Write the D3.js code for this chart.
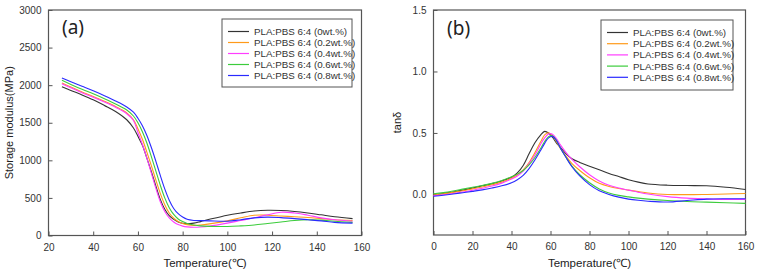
<!DOCTYPE html>
<html><head><meta charset="utf-8">
<script src="https://cdn.jsdelivr.net/npm/d3@7"></script>
<style>
body{margin:0;background:#fff;}
svg{display:block;font-family:"Liberation Sans",Arial,sans-serif;}
</style></head>
<body><svg id="c" width="760" height="280"></svg>
<script>
// ---------- data ----------
const seriesNames = ["PLA:PBS 6:4 (0wt.%)","PLA:PBS 6:4 (0.2wt.%)","PLA:PBS 6:4 (0.4wt.%)","PLA:PBS 6:4 (0.6wt.%)","PLA:PBS 6:4 (0.8wt.%)"];
const seriesColors = ["#333333","#ff9a1a","#ff3dff","#3ccc3c","#2a2aff"];

// (a) storage modulus
const tempA = [26,30,35,40,45,50,55,58,60,62,64,66,68,70,72,74,76,78,80,82,85,88,92,100,106,112,118,124,130,136,142,148,156];
const modulus0 = [1980,1930,1870,1805,1730,1650,1540,1430,1320,1200,1030,850,660,480,350,265,215,180,162,156,165,185,215,270,300,325,335,332,320,300,275,250,225];
const modulus02 = [2030,1975,1910,1850,1785,1715,1630,1540,1420,1280,1110,930,740,560,410,300,230,185,160,145,135,140,155,195,235,270,270,260,250,240,225,210,200];
const modulus04 = [2020,1965,1900,1840,1775,1705,1620,1530,1370,1210,1030,830,630,450,320,235,180,145,125,115,110,113,125,165,200,235,275,310,300,270,235,210,190];
const modulus06 = [2065,2010,1945,1885,1820,1750,1670,1590,1500,1380,1230,1050,860,670,500,370,280,220,185,160,140,128,122,120,128,140,160,180,200,210,205,190,175];
const modulus08 = [2095,2045,1985,1925,1860,1790,1710,1640,1560,1460,1330,1170,990,800,620,470,360,290,245,215,200,198,195,190,210,235,245,238,225,210,195,175,165];
const ticksAx = [20,40,60,80,100,120,140,160];
const ticksAy = [0,500,1000,1500,2000,2500,3000];

// (b) tan delta
const tempB = [0,5,10,15,20,25,30,35,40,43,46,49,52,55,57,59,61,63,65,68,71,75,80,85,90,95,100,105,110,120,130,140,150,160];
const tan0 = [-0.005,0.008,0.02,0.035,0.052,0.07,0.088,0.11,0.14,0.175,0.235,0.33,0.42,0.485,0.513,0.5,0.465,0.42,0.385,0.33,0.29,0.26,0.23,0.2,0.17,0.145,0.12,0.1,0.085,0.075,0.072,0.07,0.058,0.04];
const tan02 = [-0.005,0.005,0.017,0.03,0.045,0.06,0.078,0.1,0.132,0.16,0.2,0.26,0.34,0.43,0.485,0.502,0.48,0.43,0.375,0.31,0.25,0.195,0.135,0.09,0.065,0.048,0.035,0.023,0.012,0.0,-0.002,0.0,0.003,0.008];
const tan04 = [-0.01,-0.002,0.008,0.02,0.034,0.05,0.068,0.092,0.125,0.15,0.19,0.25,0.32,0.41,0.46,0.492,0.49,0.455,0.405,0.34,0.285,0.225,0.16,0.11,0.075,0.052,0.035,0.018,0.003,-0.018,-0.03,-0.036,-0.04,-0.04];
const tan06 = [0.005,0.015,0.028,0.043,0.058,0.073,0.09,0.113,0.143,0.165,0.195,0.24,0.3,0.375,0.43,0.47,0.477,0.44,0.38,0.3,0.23,0.16,0.095,0.045,0.012,-0.008,-0.02,-0.03,-0.038,-0.05,-0.058,-0.063,-0.068,-0.073];
const tan08 = [-0.015,-0.007,0.003,0.014,0.025,0.037,0.052,0.07,0.095,0.12,0.155,0.21,0.28,0.36,0.415,0.46,0.472,0.44,0.38,0.3,0.225,0.15,0.08,0.03,0.0,-0.022,-0.038,-0.048,-0.055,-0.062,-0.05,-0.038,-0.035,-0.035];
const ticksBx = [0,20,40,60,80,100,120,140,160];
const ticksBy = [0.0,0.5,1.0,1.5];

// ---------- drawing ----------
const svg = d3.select("#c");
const axisColor = "#555";

function panel(opts){
  const {x0,x1,y0,y1,xDom,yDom,xTicks,yTicks,yFmt,temps,series,label,labelPos,yTitle,yTitleX,legend} = opts;
  const x = d3.scaleLinear().domain(xDom).range([x0,x1]);
  const y = d3.scaleLinear().domain(yDom).range([y1,y0]);
  const g = svg.append("g");
  g.append("rect").attr("x",x0).attr("y",y0).attr("width",x1-x0).attr("height",y1-y0)
    .attr("fill","none").attr("stroke",axisColor).attr("stroke-width",1.2);
  const xa = g.append("g").attr("transform",`translate(0,${y1})`)
    .call(d3.axisBottom(x).tickValues(xTicks).tickSizeInner(-4).tickSizeOuter(0).tickPadding(8));
  xa.select(".domain").remove();
  xa.selectAll("line").attr("stroke",axisColor);
  xa.selectAll("text").attr("font-size",10).attr("fill","#333");
  const ya = g.append("g").attr("transform",`translate(${x0},0)`)
    .call(d3.axisLeft(y).tickValues(yTicks).tickFormat(yFmt).tickSizeInner(-4).tickSizeOuter(0).tickPadding(7));
  ya.select(".domain").remove();
  ya.selectAll("line").attr("stroke",axisColor);
  ya.selectAll("text").attr("font-size",10).attr("fill","#333");
  const line = d3.line().x(d=>x(d[0])).y(d=>y(d[1])).curve(d3.curveCatmullRom.alpha(0.5));
  series.forEach((vals,i)=>{
    g.append("path").datum(temps.map((t,j)=>[t,vals[j]]))
      .attr("d",line).attr("fill","none").attr("stroke",seriesColors[i]).attr("stroke-width",1.1);
  });
  g.append("text").attr("x",labelPos[0]).attr("y",labelPos[1]).text(label)
    .attr("font-family","'Noto Sans','DejaVu Sans',sans-serif").attr("font-size",19).attr("fill","#222");
  g.append("text").attr("x",(x0+x1)/2).attr("y",267).attr("text-anchor","middle")
    .attr("font-size",11.5).attr("fill","#222").text("Temperature(℃)");
  g.append("text").attr("transform",`translate(${yTitleX},${(y0+y1)/2}) rotate(-90)`)
    .attr("text-anchor","middle").attr("font-size",11).attr("fill","#222").text(yTitle);
  const [lx,ly,lw,lh,rowY,rowH] = legend;
  const lg = g.append("g");
  lg.append("rect").attr("x",lx).attr("y",ly).attr("width",lw).attr("height",lh)
    .attr("fill","#fff").attr("stroke","#555").attr("stroke-width",1);
  seriesNames.forEach((n,i)=>{
    const yy = rowY + i*rowH;
    lg.append("line").attr("x1",lx+6).attr("x2",lx+27).attr("y1",yy).attr("y2",yy)
      .attr("stroke",seriesColors[i]).attr("stroke-width",1.2);
    lg.append("text").attr("x",lx+32).attr("y",yy+3.5).attr("font-size",9.8).attr("fill","#333").text(n);
  });
}

panel({x0:48.5,x1:361.5,y0:10,y1:235.5,xDom:[20,160],yDom:[0,3000],
  xTicks:ticksAx,yTicks:ticksAy,yFmt:d3.format("d"),temps:tempA,
  series:[modulus0,modulus02,modulus04,modulus06,modulus08],
  label:"(a)",labelPos:[62,34],yTitle:"Storage modulus(MPa)",yTitleX:13,
  legend:[222,19,130,68,31.5,11]});

panel({x0:433.5,x1:745.5,y0:10,y1:235,xDom:[0,160],yDom:[-0.33,1.5],
  xTicks:ticksBx,yTicks:ticksBy,yFmt:d3.format(".1f"),temps:tempB,
  series:[tan0,tan02,tan04,tan06,tan08],
  label:"(b)",labelPos:[447,35],yTitle:"tanδ",yTitleX:401,
  legend:[601,20,132,70,32.5,11.2]});
</script></body></html>
